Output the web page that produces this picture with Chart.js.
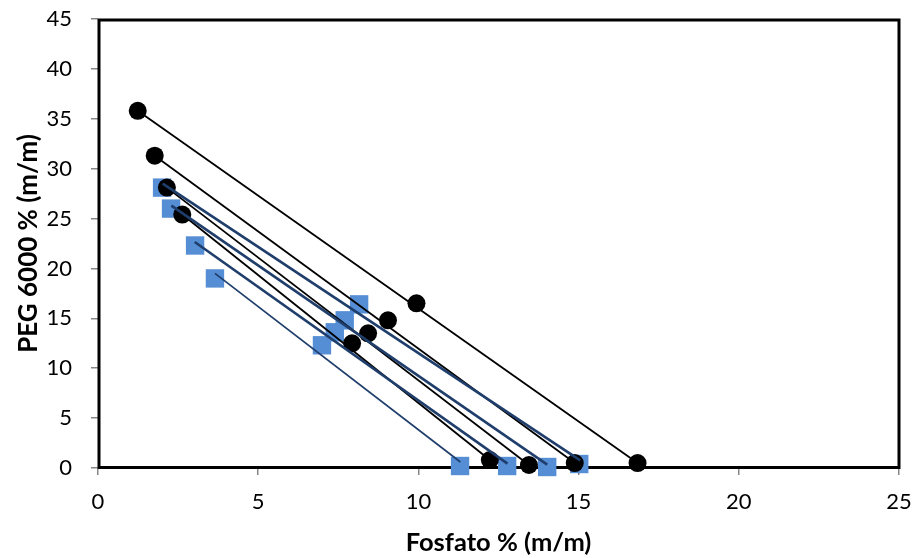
<!DOCTYPE html>
<html>
<head>
<meta charset="utf-8">
<script src="https://cdn.jsdelivr.net/npm/chart.js@4.4.1/dist/chart.umd.min.js"></script>
<style>
  html, body { margin: 0; padding: 0; background: #fff; }
  #wrap { width: 915px; height: 558px; position: relative; }
</style>
</head>
<body>
<div id="wrap"><canvas id="c" width="915" height="558"></canvas></div>
<script>
// Tick labels
const xTicks = [0, 5, 10, 15, 20, 25];
const yTicks = [0, 5, 10, 15, 20, 25, 30, 35, 40, 45];
const xTitle = 'Fosfato % (m/m)';
const yTitle = 'PEG 6000 % (m/m)';

// Black circles: tie lines (top phase, mixture, bottom phase)
const blackTopX = [1.24, 1.77, 2.15, 2.63];
const blackTopY = [35.8, 31.3, 28.1, 25.4];
const blackMidX = [9.94, 9.05, 8.43, 7.93];
const blackMidY = [16.5, 14.8, 13.5, 12.5];
const blackBotX = [16.84, 14.88, 13.45, 12.23];
const blackBotY = [0.5, 0.5, 0.3, 0.8];

// Blue squares (markers)
const blueTopX = [2.0, 2.28, 3.03, 3.65];
const blueTopY = [28.1, 26.0, 22.3, 19.0];
const blueMidX = [8.15, 7.70, 7.39, 6.99];
const blueMidY = [16.4, 14.8, 13.6, 12.3];
const blueBotX = [15.02, 14.02, 12.77, 11.30];
const blueBotY = [0.4, 0.1, 0.2, 0.2];

// Blue tie lines (end points)
const blueLineTopX = [2.02, 2.29, 3.02, 3.65];
const blueLineTopY = [28.5, 26.3, 22.65, 19.5];
const blueLineBotX = [15.05, 14.02, 12.78, 11.31];
const blueLineBotY = [0.77, 0.34, 0.44, 0.6];

const BLACK = '#000000';
const NAVY = '#1F3E6C';
const SQUARE = '#558ED5';
const blueLineWidths = [2.6, 2.6, 2.6, 1.7];

const datasets = [];

// blue tie lines (top-most)
for (let i = 0; i < blueLineTopX.length; i++) {
  datasets.push({
    data: [{x: blueLineTopX[i], y: blueLineTopY[i]}, {x: blueLineBotX[i], y: blueLineBotY[i]}],
    showLine: true, borderColor: NAVY, borderWidth: blueLineWidths[i],
    pointRadius: 0, pointHoverRadius: 0, order: 1, clip: false
  });
}
// black tie lines
for (let i = 0; i < blackTopX.length; i++) {
  datasets.push({
    data: [{x: blackTopX[i], y: blackTopY[i]}, {x: blackBotX[i], y: blackBotY[i]}],
    showLine: true, borderColor: BLACK, borderWidth: 1.8,
    pointRadius: 0, pointHoverRadius: 0, order: 2, clip: false
  });
}
// black circles
const circles = [];
for (let i = 0; i < blackTopX.length; i++) {
  circles.push({x: blackTopX[i], y: blackTopY[i]});
  circles.push({x: blackMidX[i], y: blackMidY[i]});
  circles.push({x: blackBotX[i], y: blackBotY[i]});
}
datasets.push({
  data: circles, showLine: false, pointStyle: 'circle', pointRadius: 9,
  pointBackgroundColor: BLACK, pointBorderWidth: 0, order: 3, clip: false
});
// blue squares
const squares = [];
for (let i = 0; i < blueTopX.length; i++) {
  squares.push({x: blueTopX[i], y: blueTopY[i]});
  squares.push({x: blueMidX[i], y: blueMidY[i]});
  squares.push({x: blueBotX[i], y: blueBotY[i]});
}
datasets.push({
  data: squares, showLine: false, pointStyle: 'rect', pointRadius: 13,
  pointBackgroundColor: SQUARE, pointBorderWidth: 0, order: 4, clip: false
});

const framePlugin = {
  id: 'frame',
  beforeDatasetsDraw(chart) {
    const a = chart.chartArea, ctx = chart.ctx;
    ctx.save();
    ctx.strokeStyle = '#000';
    ctx.lineWidth = 3;
    ctx.strokeRect(a.left + 1, a.top + 1, a.right - a.left - 1, a.bottom - a.top - 1.5);
    ctx.restore();
  }
};

new Chart(document.getElementById('c'), {
  type: 'scatter',
  data: { datasets },
  plugins: [framePlugin],
  options: {
    responsive: false,
    animation: false,
    events: [],
    layout: { padding: { top: 19, right: 16, left: 0, bottom: 0 } },
    plugins: { legend: { display: false }, tooltip: { enabled: false } },
    scales: {
      x: {
        type: 'linear', min: xTicks[0], max: xTicks[xTicks.length - 1],
        afterBuildTicks(s) { s.ticks = xTicks.map(v => ({value: v})); },
        afterFit(s) { s.height = 90; s.paddingLeft = 0; s.paddingRight = 0; },
        grid: { drawOnChartArea: false, drawTicks: true, tickLength: 7, color: '#868686', lineWidth: 1.5 },
        border: { display: true, color: '#868686', width: 1 },
        ticks: { color: '#000', padding: 14, font: { family: 'Lato', size: 22 } },
        title: { display: true, text: xTitle, color: '#000', padding: { top: 0, bottom: 0 },
                 font: { family: 'Lato', size: 25.5, weight: 'bold' } }
      },
      y: {
        type: 'linear', min: yTicks[0], max: yTicks[yTicks.length - 1],
        afterBuildTicks(s) { s.ticks = yTicks.map(v => ({value: v})); },
        afterFit(s) { s.width = 98; s.paddingTop = 0; s.paddingBottom = 0; },
        grid: { drawOnChartArea: false, drawTicks: true, tickLength: 7, color: '#868686', lineWidth: 1.5 },
        border: { display: true, color: '#868686', width: 1 },
        ticks: { color: '#000', padding: 19, font: { family: 'Lato', size: 22 } },
        title: { display: true, text: yTitle, color: '#000', padding: { top: 13, bottom: 0 },
                 font: { family: 'Lato', size: 26, weight: 'bold' } }
      }
    }
  }
});
</script>
</body>
</html>
